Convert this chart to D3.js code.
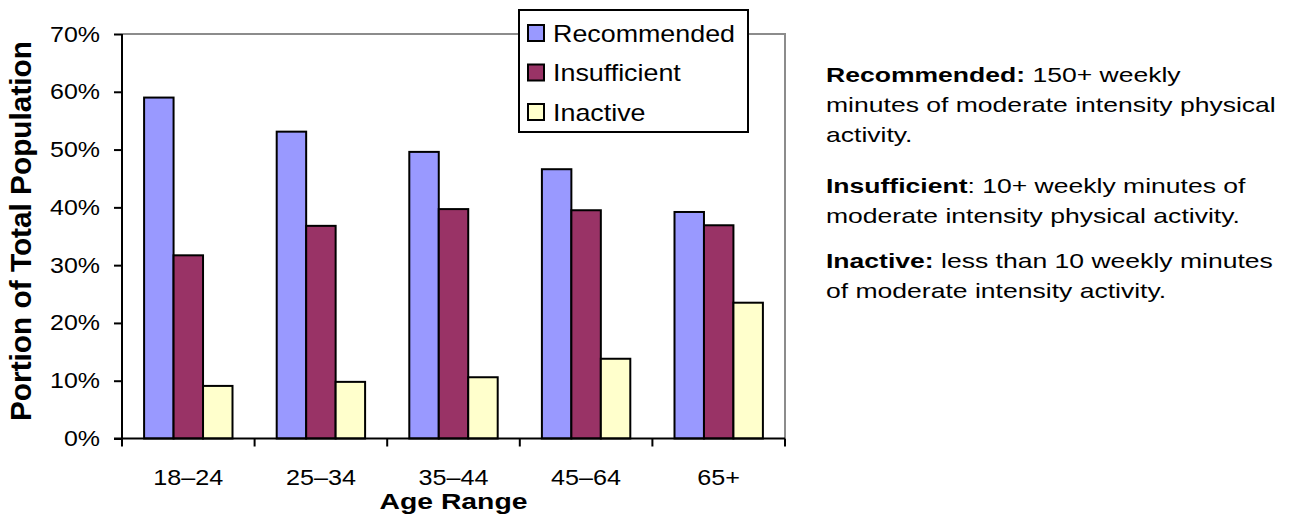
<!DOCTYPE html>
<html>
<head>
<meta charset="utf-8">
<script src="https://cdn.jsdelivr.net/npm/d3@7"></script>
<style>
  body { margin: 0; background: white; }
  text { font-family: Arial, "Liberation Sans", sans-serif; fill: #000; }
</style>
</head>
<body>
<svg id="chart" width="1291" height="516"></svg>
<script>

// Chart data
var ageRanges = ["18–24", "25–34", "35–44", "45–64", "65+"];
var seriesNames = ["Recommended", "Insufficient", "Inactive"];
var recommended = [59.0, 53.1, 49.6, 46.6, 39.2];
var insufficient = [31.7, 36.8, 39.7, 39.5, 36.9];
var inactive = [9.1, 9.8, 10.6, 13.8, 23.5];
var yTicks = [0, 10, 20, 30, 40, 50, 60, 70];
var notes = [
  {bold: "Recommended:", lines: [" 150+ weekly", "minutes of moderate intensity physical", "activity."]},
  {bold: "Insufficient", lines: [": 10+ weekly minutes of", "moderate intensity physical activity."]},
  {bold: "Inactive:", lines: [" less than 10 weekly minutes", "of moderate intensity activity."]}
];

var colors = ["#9999ff", "#993366", "#ffffcc"];
var allSeries = [recommended, insufficient, inactive];

// Plot area
var margin = {left: 122, top: 34, right: 785, bottom: 438.5};

var svg = d3.select("#chart");

// The text in the picture is a bit wider than plain Arial, stretch it sideways
function widen(sel, factor) {
  sel.each(function() {
    var len = this.getComputedTextLength();
    d3.select(this)
      .attr("textLength", len * factor)
      .attr("lengthAdjust", "spacingAndGlyphs");
  });
}

var xScale = d3.scaleBand()
  .domain(ageRanges)
  .range([margin.left, margin.right]);

// gap width of 150%: each group holds 3 bars + 1.5 bar widths of gap
var barW = xScale.bandwidth() / 4.5;
var xInner = d3.scaleBand()
  .domain(seriesNames)
  .range([0.75 * barW, 3.75 * barW]);

var yScale = d3.scaleLinear()
  .domain([0, 70])
  .range([margin.bottom, margin.top]);

// Grey plot border on top and right
svg.append("path")
  .attr("d", "M" + margin.left + "," + margin.top + "H" + margin.right + "V" + margin.bottom)
  .attr("fill", "none")
  .attr("stroke", "#8c8c8c")
  .attr("stroke-width", 2);

// Bars
seriesNames.forEach(function(name, si) {
  svg.append("g")
    .selectAll("rect")
    .data(allSeries[si])
    .enter()
    .append("rect")
      .attr("x", function(d, i) { return xScale(ageRanges[i]) + xInner(name); })
      .attr("y", function(d) { return yScale(d); })
      .attr("width", xInner.bandwidth())
      .attr("height", function(d) { return margin.bottom - yScale(d); })
      .attr("fill", colors[si])
      .attr("stroke", "black")
      .attr("stroke-width", 2);
});

// Y axis
var yAxis = d3.axisLeft(yScale)
  .tickValues(yTicks)
  .tickSize(8)
  .tickPadding(14)
  .tickFormat(function(d) { return d + "%"; });

var yg = svg.append("g")
  .attr("transform", "translate(" + margin.left + ",0)")
  .call(yAxis);
yg.attr("font-size", null).attr("font-family", null);
yg.select(".domain").attr("stroke-width", 2).attr("d", "M0," + margin.top + "V" + margin.bottom);
yg.selectAll(".tick line").attr("stroke-width", 2);
var yLabels = yg.selectAll(".tick text")
  .style("font-size", "22px")
  .attr("fill", "#000");
var l70 = yLabels.filter(function(d) { return d == 70; }).node().getComputedTextLength();
widen(yLabels, 50 / l70);

// X axis, ticks sit between the groups
var xg = svg.append("g")
  .attr("transform", "translate(0," + margin.bottom + ")");
xg.append("line")
  .attr("x1", margin.left - 8)
  .attr("x2", margin.right)
  .attr("stroke", "black")
  .attr("stroke-width", 2);
var boundaries = ageRanges.map(function(d) { return xScale(d); }).concat([margin.right]);
xg.selectAll(".xtick")
  .data(boundaries)
  .enter()
  .append("line")
    .attr("x1", function(d) { return d; })
    .attr("x2", function(d) { return d; })
    .attr("y1", 0)
    .attr("y2", 8)
    .attr("stroke", "black")
    .attr("stroke-width", 2);
var xLabels = xg.selectAll(".xlabel")
  .data(ageRanges)
  .enter()
  .append("text")
    .attr("x", function(d) { return xScale(d) + xScale.bandwidth() / 2; })
    .attr("y", 46)
    .attr("text-anchor", "middle")
    .style("font-size", "22.5px")
    .text(function(d) { return d; });
widen(xLabels, 70 / xLabels.node().getComputedTextLength());

// Axis titles
var xTitle = svg.append("text")
  .attr("x", (margin.left + margin.right) / 2)
  .attr("y", 508.5)
  .attr("text-anchor", "middle")
  .style("font-size", "22.5px")
  .style("font-weight", "bold")
  .text("Age Range");
widen(xTitle, 148 / xTitle.node().getComputedTextLength());

var yTitle = svg.append("text")
  .attr("transform", "translate(31,231) rotate(-90)")
  .attr("text-anchor", "middle")
  .style("font-size", "29px")
  .style("font-weight", "bold")
  .text("Portion of Total Population");
widen(yTitle, 380 / yTitle.node().getComputedTextLength());

// Legend
var legend = svg.append("g").attr("transform", "translate(519,10)");
legend.append("rect")
  .attr("width", 229)
  .attr("height", 122)
  .attr("fill", "white")
  .attr("stroke", "black")
  .attr("stroke-width", 2);
var rows = legend.selectAll(".row")
  .data(seriesNames)
  .enter()
  .append("g")
    .attr("transform", function(d, i) { return "translate(9," + (23 + i * 39.5) + ")"; });
rows.append("rect")
  .attr("y", -8)
  .attr("width", 16)
  .attr("height", 16)
  .attr("fill", function(d, i) { return colors[i]; })
  .attr("stroke", "black")
  .attr("stroke-width", 2);
var legendText = rows.append("text")
  .attr("x", 25)
  .attr("y", 8.5)
  .style("font-size", "24px")
  .text(function(d) { return d; });
widen(legendText, 182 / legendText.node().getComputedTextLength());

// Notes on the right, drawn in a group stretched sideways
var noteGroup = svg.append("g");
var noteTops = [82, 193, 268];
notes.forEach(function(n, ni) {
  var t = noteGroup.append("text")
    .attr("x", 0)
    .attr("y", noteTops[ni])
    .style("font-size", "20.5px");
  t.append("tspan").style("font-weight", "bold").text(n.bold);
  t.append("tspan").text(n.lines[0]);
  n.lines.slice(1).forEach(function(line, li) {
    noteGroup.append("text")
      .attr("class", "note-line")
      .attr("x", 0)
      .attr("y", noteTops[ni] + 30 * (li + 1))
      .style("font-size", "20.5px")
      .text(line);
  });
});
var widest = noteGroup.selectAll(".note-line").filter(function(d, i) { return i == 0; });
var noteScale = 450 / widest.node().getComputedTextLength();
noteGroup.attr("transform", "translate(826,0) scale(" + noteScale + ",1)");

</script>
</body>
</html>
